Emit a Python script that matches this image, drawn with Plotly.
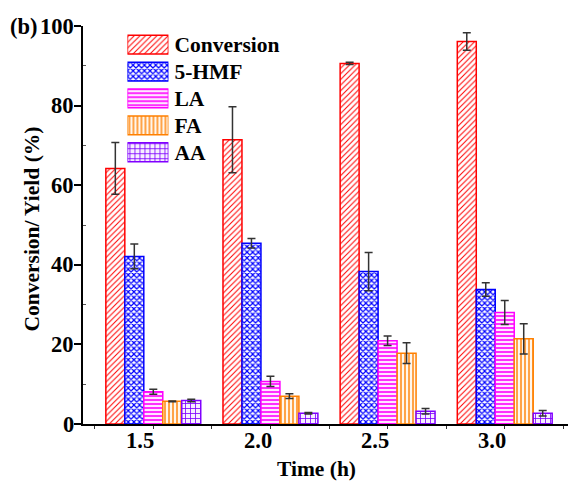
import plotly.graph_objects as go

# ---- data ----
times = [1.5, 2.0, 2.5, 3.0]
tick_labels = ["1.5", "2.0", "2.5", "3.0"]
series_names = ["Conversion", "5-HMF", "LA", "FA", "AA"]
conversion = [64.2, 71.4, 90.6, 96.1]
conversion_err = [6.5, 8.3, 0.3, 2.2]
hmf = [42.1, 45.4, 38.3, 33.8]
hmf_err = [3.1, 1.2, 4.8, 1.7]
la = [8.1, 10.7, 20.9, 28.0]
la_err = [0.6, 1.3, 1.2, 3.0]
fa = [5.7, 7.0, 17.8, 21.4]
fa_err = [0.1, 0.6, 2.6, 3.8]
aa = [5.9, 2.7, 3.2, 2.7]
aa_err = [0.3, 0.2, 0.7, 0.7]
y_ticks = [0, 20, 40, 60, 80, 100]

values = [conversion, hmf, la, fa, aa]
errors = [conversion_err, hmf_err, la_err, fa_err, aa_err]

# ---- styles ----
colors = ["#ff0000", "#0000ff", "#ff00ff", "#ff8000", "#8000ff"]
bg_colors = ["#ffffff", "#ffffff", "#ffe6ff", "#fff6ec", "#f6eeff"]
patterns = ["/", "x", "-", "|", "+"]
pat_sizes = [4, 4, 4, 4, 5]
pat_solid = [0.25, 0.5, 0.4, 0.35, 0.3]
FONT = "Liberation Serif"

fig = go.Figure()

for name, vals, errs, col, bg, pat, ps, so in zip(series_names, values, errors, colors,
                                                  bg_colors, patterns, pat_sizes, pat_solid):
    fig.add_trace(go.Bar(
        x=times, y=vals, name=name,
        marker=dict(color="white",
                    line=dict(color=col, width=1.5),
                    pattern=dict(shape=pat, fgcolor=col, bgcolor=bg,
                                 size=ps, solidity=so, fillmode="replace")),
        error_y=dict(type="data", array=errs, visible=True,
                     color="#333333", thickness=1.5, width=4),
        showlegend=False, hoverinfo="skip",
    ))

# custom legend drawn as a small bar chart on its own axes
fig.add_trace(go.Bar(
    x=[1] * len(series_names), y=series_names, orientation="h",
    xaxis="x3", yaxis="y3", width=0.7,
    marker=dict(color="white",
                line=dict(color=colors, width=1.5),
                pattern=dict(shape=patterns, fgcolor=colors, bgcolor=bg_colors,
                             size=pat_sizes, solidity=pat_solid, fillmode="replace")),
    showlegend=False, hoverinfo="skip",
))

W, H = 568, 481
ml, mr, mt, mb = 82.5, 0, 26, 57
pw = W - ml - mr
ph = H - mt - mb

def px_x(p):
    return (p - ml) / pw

def px_y(p):
    return (H - mb - p) / ph

xr = [1.2, 3.27]
tick_font = dict(family=FONT, size=22.5, color="black", weight="bold")
title_font = dict(family=FONT, size=21.5, color="black", weight="bold")

annotations = []
for t, lab in zip(times, tick_labels):
    annotations.append(dict(x=t - 0.055, y=px_y(441), xref="x", yref="paper",
                            text=lab, showarrow=False, font=tick_font,
                            xanchor="center", yanchor="middle"))
for v in y_ticks:
    annotations.append(dict(x=px_x(75), y=v, xref="paper", yref="y",
                            text=str(v), showarrow=False, font=tick_font,
                            xanchor="right", yanchor="middle", xshift=0))
annotations.append(dict(x=px_x(316), y=px_y(469), xref="paper", yref="paper",
                        text="Time (h)", showarrow=False, font=title_font,
                        xanchor="center", yanchor="middle"))
annotations.append(dict(x=px_x(31), y=px_y(229), xref="paper", yref="paper",
                        text="Conversion/ Yield (%)", showarrow=False, textangle=-90,
                        font=title_font, xanchor="center", yanchor="middle"))
annotations.append(dict(x=px_x(39), y=px_y(26), xref="paper", yref="paper",
                        text="(b)", showarrow=False, font=tick_font,
                        xanchor="right", yanchor="middle"))

fig.update_layout(
    width=W, height=H,
    margin=dict(l=ml, r=mr, t=mt, b=mb, pad=0),
    paper_bgcolor="white", plot_bgcolor="rgba(0,0,0,0)",
    barmode="group", bargap=0.19, bargroupgap=0,
    showlegend=False,
    font=dict(family=FONT, color="black"),
    xaxis=dict(range=xr, showgrid=False, zeroline=False,
               showline=True, linecolor="black", linewidth=2,
               tickmode="linear", tick0=1.25, dtick=0.25,
               ticks="outside", ticklen=3, tickwidth=1, tickcolor="#333",
               showticklabels=False),
    xaxis2=dict(range=xr, overlaying="x", side="top", showgrid=False, zeroline=False,
                showline=True, linecolor="black", linewidth=2,
                tickmode="linear", tick0=1.25, dtick=0.25,
                ticks="inside", ticklen=3, tickwidth=1, tickcolor="#333",
                showticklabels=False),
    yaxis=dict(range=[0, 100], showgrid=False, zeroline=False,
               showline=True, linecolor="black", linewidth=2,
               tickvals=y_ticks, ticks="outside", ticklen=7, tickwidth=1.5,
               tickcolor="black", showticklabels=False,
               minor=dict(tickvals=[v + 10 for v in y_ticks[:-1]], ticks="inside",
                          ticklen=3, tickwidth=1, tickcolor="#555")),
    xaxis3=dict(domain=[px_x(127), px_x(168)], anchor="y3", range=[0, 1],
                visible=False, fixedrange=True),
    yaxis3=dict(domain=[px_y(165.7), px_y(31.2)], anchor="x3", type="category",
                autorange="reversed", side="right", showgrid=False, zeroline=False,
                showline=False, ticks="", ticklabelstandoff=5,
                tickfont=dict(family=FONT, size=21.5, color="black", weight="bold")),
    annotations=annotations,
)

fig.write_html("out.html")
